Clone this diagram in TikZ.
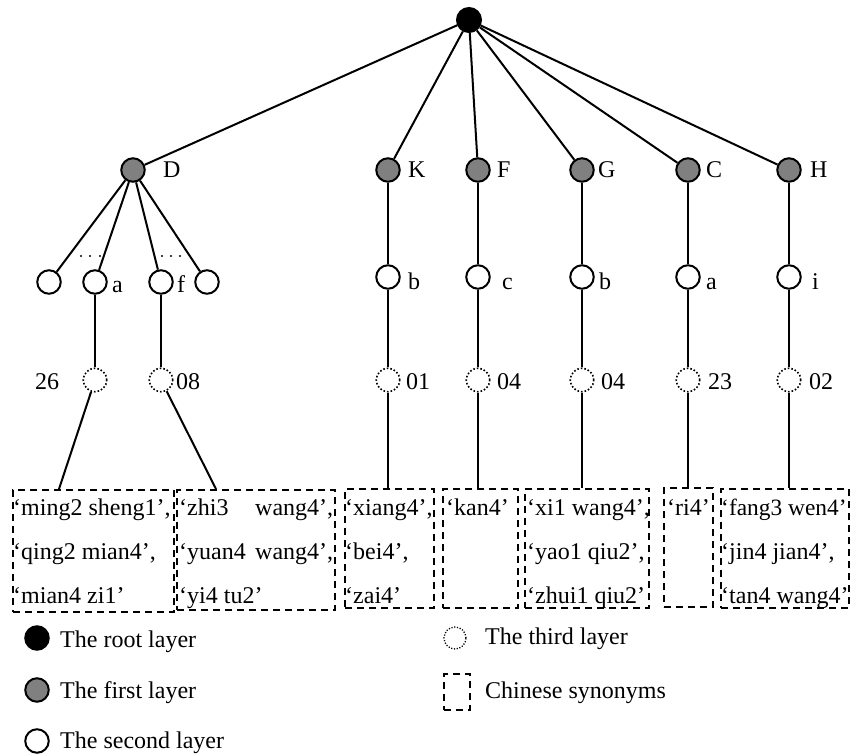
\documentclass[tikz,border=0pt]{standalone}
\usepackage{fontspec}
\setmainfont{Liberation Serif}
\definecolor{layergray}{RGB}{128,128,128}
\begin{document}
\begin{tikzpicture}[x=1pt,y=-1pt,
  every node/.style={font=\fontsize{24}{28}\selectfont},
  nroot/.style={circle,draw,line width=2pt,fill=black,minimum size=24pt,inner sep=0pt},
  nfirst/.style={circle,draw,line width=2pt,fill=layergray,minimum size=23.5pt,inner sep=0pt},
  nsecond/.style={circle,draw,line width=2pt,fill=white,minimum size=23.5pt,inner sep=0pt},
  nthird/.style={circle,draw,line width=1.6pt,dash pattern=on 1.6pt off 2pt,minimum size=23.5pt,inner sep=0pt},
  lbl/.style={anchor=base west,inner sep=0pt},
  syn/.style={draw,line width=2pt,dash pattern=on 7pt off 5pt,inner sep=0pt,anchor=north west},
  link/.style={line width=2pt}]
\useasboundingbox (0,0) rectangle (850,754);

% root and first layer
\node[nroot] (root) at (469,20) {};
\node[nfirst] (D) at (133,170) {};
\node[nfirst] (K) at (388,170) {};
\node[nfirst] (F) at (478,170) {};
\node[nfirst] (G) at (582,170) {};
\node[nfirst] (C) at (688,170) {};
\node[nfirst] (H) at (789,170) {};
\node[lbl] (lD) at (163,178) {D};
\node[lbl] (lK) at (408,178) {K};
\node[lbl] (lF) at (497,178) {F};
\node[lbl] (lG) at (598,178) {G};
\node[lbl] (lC) at (706,178) {C};
\node[lbl] (lH) at (810,178) {H};

% second layer
\node[nsecond] (D1) at (49,282) {};
\node[nsecond] (Da) at (95,282) {};
\node[nsecond] (Df) at (161,282) {};
\node[nsecond] (D4) at (207,282) {};
\node[nsecond] (Kb) at (388,277) {};
\node[nsecond] (Fc) at (478,277) {};
\node[nsecond] (Gb) at (582,277) {};
\node[nsecond] (Ca) at (688,277) {};
\node[nsecond] (Hi) at (789,277) {};
\node[lbl] (lDa) at (112,292) {a};
\node[lbl] (lDf) at (177,292) {f};
\node[lbl] (lKb) at (408,289) {b};
\node[lbl] (lFc) at (502,289) {c};
\node[lbl] (lGb) at (599,289) {b};
\node[lbl] (lCa) at (706,289) {a};
\node[lbl] (lHi) at (812,289) {i};

% ellipsis dots
\foreach \xx in {81,90,100,162,171,180} \fill (\xx,256) circle (1.1);

% third layer
\node[nthird] (T26) at (95,380) {};
\node[nthird] (T08) at (161,380) {};
\node[nthird] (T01) at (388,380) {};
\node[nthird] (T04a) at (478,380) {};
\node[nthird] (T04b) at (582,380) {};
\node[nthird] (T23) at (688,380) {};
\node[nthird] (T02) at (789,380) {};
\node[lbl] (l26) at (35,389) {26};
\node[lbl] (l08) at (176,389) {08};
\node[lbl] (l01) at (406,389) {01};
\node[lbl] (l04a) at (497,389) {04};
\node[lbl] (l04b) at (601,389) {04};
\node[lbl] (l23) at (708,389) {23};
\node[lbl] (l02) at (809,389) {02};

% synonym boxes
\node[syn,minimum width=161pt,minimum height=122pt] (B1) at (12,489) {};
\node[syn,minimum width=158pt,minimum height=120pt] (B2) at (176,489) {};
\node[syn,minimum width=89pt,minimum height=119pt] (B3) at (344,488) {};
\node[syn,minimum width=75pt,minimum height=119pt] (B4) at (442,488) {};
\node[syn,minimum width=124pt,minimum height=119pt] (B5) at (524,488) {};
\node[syn,minimum width=49pt,minimum height=119pt] (B6) at (663,487) {};
\node[syn,minimum width=128pt,minimum height=119pt] (B7) at (720,488) {};
\coordinate (B1in) at (59,489);
\coordinate (B2in) at (216,489);

\node[lbl] (s11) at (13,515) {‘ming2 sheng1’,};
\node[lbl] (s12) at (13,559) {‘qing2 mian4’,};
\node[lbl] (s13) at (13,603) {‘mian4 zi1’};
\node[lbl] (s21) at (179,515) {\hbox to 154pt{‘zhi3\hfill wang4’,}};
\node[lbl] (s22) at (179,559) {\hbox to 154pt{‘yuan4\hfill wang4’,}};
\node[lbl] (s23) at (179,603) {‘yi4 tu2’};
\node[lbl] (s31) at (345,515) {‘xiang4’,};
\node[lbl] (s32) at (345,559) {‘bei4’,};
\node[lbl] (s33) at (345,603) {‘zai4’};
\node[lbl] (s41) at (446,515) {‘kan4’};
\node[lbl] (s51) at (527,515) {‘xi1 wang4’,};
\node[lbl] (s52) at (527,559) {‘yao1 qiu2’,};
\node[lbl] (s53) at (527,603) {‘zhui1 qiu2’};
\node[lbl] (s61) at (667,515) {‘ri4’};
\node[lbl] (s71) at (721,515) {\fontsize{23.4}{28}\selectfont ‘fang3 wen4’};
\node[lbl] (s72) at (721,559) {‘jin4 jian4’,};
\node[lbl] (s73) at (721,603) {‘tan4 wang4’};

% connectors
\foreach \t in {D,K,F,G,C,H} \draw[link] (root) -- (\t);
\foreach \t in {D1,Da,Df,D4} \draw[link] (D) -- (\t);
\draw[link] (K) -- (Kb);
\draw[link] (F) -- (Fc);
\draw[link] (G) -- (Gb);
\draw[link] (C) -- (Ca);
\draw[link] (H) -- (Hi);
\draw[link] (Da) -- (T26);
\draw[link] (Df) -- (T08);
\draw[link] (Kb) -- (T01);
\draw[link] (Fc) -- (T04a);
\draw[link] (Gb) -- (T04b);
\draw[link] (Ca) -- (T23);
\draw[link] (Hi) -- (T02);
\draw[link] (T26) -- (B1in);
\draw[link] (T08) -- (B2in);
\draw[link] (T01) -- (T01 |- B3.north);
\draw[link] (T04a) -- (T04a |- B4.north);
\draw[link] (T04b) -- (T04b |- B5.north);
\draw[link] (T23) -- (T23 |- B6.north);
\draw[link] (T02) -- (T02 |- B7.north);

% legend
\node[nroot,minimum size=23.5pt] (L0) at (37,638) {};
\node[nfirst] (L1) at (37,690) {};
\node[nsecond] (L2) at (37,741) {};
\node[nthird,line width=1.3pt,dash pattern=on 1.2pt off 1.6pt,minimum size=22pt] (L3) at (455,638) {};
\node[syn,minimum width=26pt,minimum height=36pt] (L4) at (443,673) {};
\node[lbl] (t0) at (60,647) {The root layer};
\node[lbl] (t1) at (60,698) {The first layer};
\node[lbl] (t2) at (60,748) {The second layer};
\node[lbl] (t3) at (485,644) {The third layer};
\node[lbl] (t4) at (485,698) {Chinese synonyms};
\end{tikzpicture}
\end{document}
